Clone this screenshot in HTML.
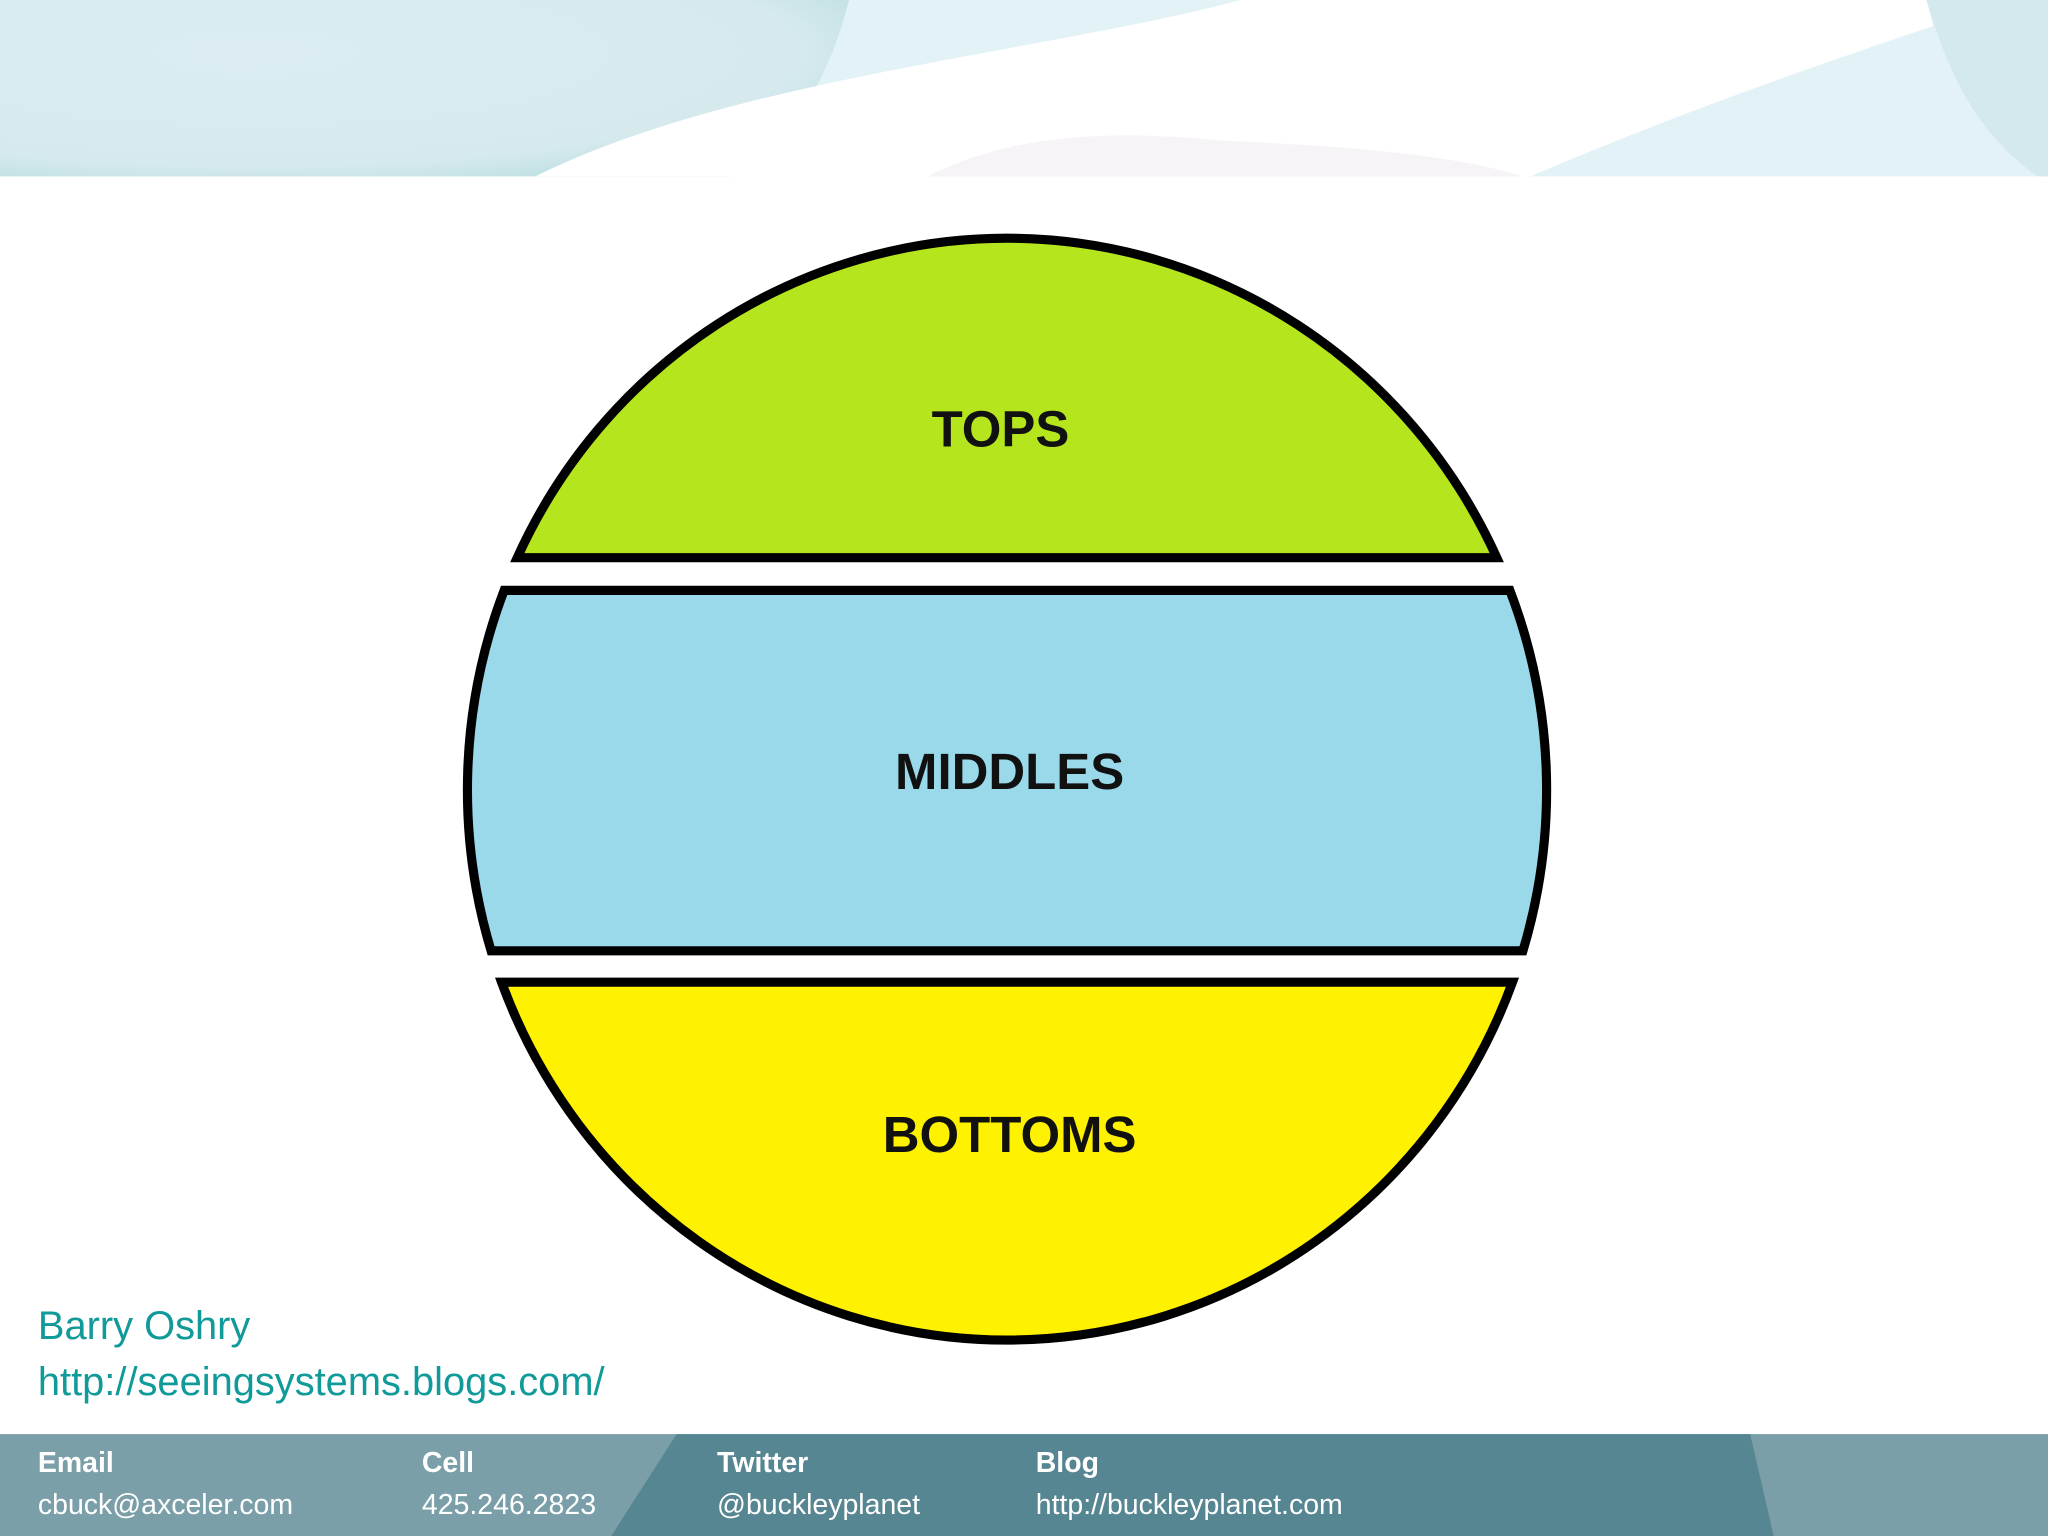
<!DOCTYPE html>
<html><head><meta charset="utf-8"><style>
html,body{margin:0;padding:0;background:#fff}
svg{display:block}
</style></head><body>
<svg width="2048" height="1536" viewBox="0 0 1568 1176" preserveAspectRatio="none" xmlns="http://www.w3.org/2000/svg">
<defs>
<radialGradient id="bl" cx="0.3" cy="0.3" r="0.8"><stop offset="0" stop-color="#dcecf2"/><stop offset="0.8" stop-color="#d6eaee"/><stop offset="1" stop-color="#bedfe0"/></radialGradient>
</defs>
<rect x="0" y="0" width="1568" height="135" fill="#e2f2f6"/>
<path d="M0,0 L650,0 C630,80 590,120 560,135 L0,135 Z" fill="url(#bl)"/>
<path d="M950,0 L1475,0 L1480,20 C1330,70 1230,110 1172,135 L410,135 C560,60 800,40 950,0 Z" fill="#ffffff"/>
<path d="M710,135 C780,100 860,100 940,108 C1040,112 1120,120 1165,135 Z" fill="#f7f4f7"/>
<path d="M1475,0 L1568,0 L1568,135 L1560,135 C1510,100 1490,50 1475,0 Z" fill="#d4e9ec"/>

<g stroke="#000" stroke-width="7" stroke-linejoin="miter">
<path d="M396,427 A413,421 0 0 1 1146,427 Z" fill="#b5e61d"/>
<path d="M386,452 L1156,452 A413,421 0 0 1 1166,728 L376,728 A413,421 0 0 1 386,452 Z" fill="#99d9ea"/>
<path d="M384,752 L1158,752 A413,421 0 0 1 384,752 Z" fill="#fff200"/>
</g>
<g font-family="Liberation Sans, Arial, sans-serif" font-weight="bold" font-size="39" text-anchor="middle" fill="#111">
<text x="766" y="342">TOPS</text>
<text x="773" y="604">MIDDLES</text>
<text x="773" y="882">BOTTOMS</text>
</g>
<g font-family="Liberation Sans, Arial, sans-serif" font-size="30.5" fill="#109a9a">
<text x="29" y="1025">Barry Oshry</text>
<text x="29" y="1068">http://seeingsystems.blogs.com/</text>
</g>

<rect x="0" y="1098" width="1568" height="78" fill="#7a9fa8"/>
<path d="M518,1098 L1340,1098 L1358,1176 L468,1176 Z" fill="#568691"/>
<g font-family="Liberation Sans, Arial, sans-serif" font-size="21.8" fill="#fff">
<g font-weight="bold">
<text x="29" y="1127">Email</text>
<text x="323" y="1127">Cell</text>
<text x="549" y="1127">Twitter</text>
<text x="793" y="1127">Blog</text>
</g>
<text x="29" y="1159">cbuck@axceler.com</text>
<text x="323" y="1159">425.246.2823</text>
<text x="549" y="1159">@buckleyplanet</text>
<text x="793" y="1159">http://buckleyplanet.com</text>
</g>
</svg>
</body></html>
